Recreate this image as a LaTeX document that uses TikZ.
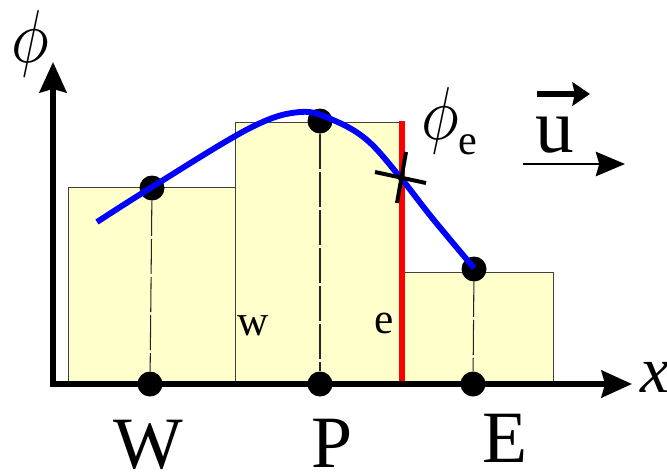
\documentclass[tikz,border=0pt]{standalone}
\usepackage{graphicx}
\usepackage{fontspec}
\setmainfont{Liberation Serif}
\usetikzlibrary{arrows.meta}
\definecolor{cellfill}{RGB}{255,255,204}
\newcommand{\bigphi}{\scalebox{5.4}[6.4]{\fontsize{10}{12}\selectfont$\phi$}}

\begin{document}
\begin{tikzpicture}[x=0.03cm,y=-0.03cm,
  cell/.style={draw=black!75,line width=0.8pt,fill=cellfill},
  gridline/.style={draw=black!85,line width=0.9pt,dash pattern=on 30pt off 2.5pt},
  dot/.style={circle,fill=black,inner sep=0pt,minimum size=0.75cm},
  axis/.style={line width=4.7pt,line join=miter,
    {Stealth[length=26pt,width=23pt,inset=3pt]}-{Stealth[length=26pt,width=23pt,inset=3pt]}},
  pointlbl/.style={font=\fontsize{63}{63}\selectfont,inner sep=0pt,anchor=base},
  facelbl/.style={font=\fontsize{37}{37}\selectfont,inner sep=0pt,anchor=base west},
  axislbl/.style={font=\fontsize{56}{56}\selectfont,inner sep=0pt}]
\useasboundingbox (0,0) rectangle (667,471);

% control volumes
\draw[cell] (68,384) rectangle (235,187);
\draw[cell] (235,384) rectangle (400,122);
\draw[cell] (400,384) rectangle (553,272);

% face e
\draw[red,line width=5pt] (402,121) -- (402,384);

% axes
\coordinate (O) at (53,384);
\coordinate (ytip) at (53,62);
\coordinate (xtip) at (632,384);
\draw[axis] (ytip) -- (O) -- (xtip);
\node[axislbl] (philbl) at (30,44) {\bigphi};
\node[axislbl,anchor=base west] (xlbl) at (640,392) {\textit{x}};

% nodes
\node[dot] (W) at (152,188) {};
\node[dot] (P) at (320,121) {};
\node[dot] (E) at (474,269) {};
\node[dot] (Wx) at (150,384) {};
\node[dot] (Px) at (320,384) {};
\node[dot] (Ex) at (473,384) {};
\draw[gridline] (W) -- (Wx);
\draw[gridline] (P) -- (Px);
\draw[gridline] (E) -- (Ex);

% profile
\draw[blue,line width=5pt,line cap=butt]
  plot[smooth,tension=0.6] coordinates {(97,222) (152,187) (250,128) (300,112)
  (333,120) (367,140) (400,177) (433,219) (474,268)};

% value at the face
\draw[line width=3.4pt] (375,172) -- (426,183);
\draw[line width=3.4pt] (406,152) -- (397,203);
\node[axislbl,anchor=base west] (phie) at (421,139)
  {\bigphi\raisebox{-13pt}{\fontsize{36}{36}\selectfont e}};

% velocity
\node[font=\fontsize{66}{66}\selectfont,inner sep=0pt,anchor=base west] (u) at (535,152) {u};
\coordinate (uA) at (537,94);
\coordinate (uB) at (590,94);
\draw[line width=5pt,-{Stealth[length=15pt,width=20pt,inset=2pt]}] (uA) -- (uB);
\coordinate (flowA) at (523,164);
\coordinate (flowB) at (625,164);
\draw[line width=1.2pt,-{Stealth[length=25pt,width=21pt,inset=3pt]}] (flowA) -- (flowB);

% labels
\node[pointlbl] (Wlbl) at (148,468) {W};
\node[pointlbl] (Plbl) at (332,467) {P};
\node[pointlbl] (Elbl) at (505,462) {E};
\node[facelbl] (wlbl) at (237,335) {w};
\node[facelbl] (elbl) at (374,333) {e};
\end{tikzpicture}
\end{document}
